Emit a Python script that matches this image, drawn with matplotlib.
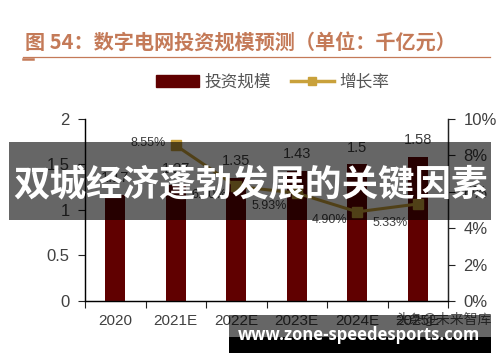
import matplotlib
matplotlib.use('Agg')
import matplotlib.pyplot as plt
from matplotlib.patches import Rectangle
from matplotlib.lines import Line2D

years = ['2020', '2021E', '2022E', '2023E', '2024E', '2025E']
invest = [1.17, 1.27, 1.35, 1.43, 1.5, 1.58]
growth = [None, 8.55, 6.30, 5.93, 4.90, 5.33]
growth_labels = ['', '8.55%', '6.30%', '5.93%', '4.90%', '5.33%']
left_ticks = [0, 0.5, 1, 1.5, 2]
right_ticks = [0, 2, 4, 6, 8, 10]

# label offsets in points (dx, dy) for growth labels
growth_offsets = [(0, 0), (-7, 2), (-7, -6), (-7, -9), (-7, -6), (-7, -14)]

BAR = '#600000'
GOLD = '#C9A13B'
TXT = '#404040'
TITLE = '#C47A58'
num_font = ['Liberation Sans', 'DejaVu Sans']
cjk_font = ['Noto Sans CJK SC', 'DejaVu Sans']

fig = plt.figure(figsize=(5, 3.62), dpi=100)
fig.patch.set_facecolor('white')

ax = fig.add_axes([0.17, 0.1685, 0.726, 0.5028])
x = list(range(len(years)))
ax.bar(x, invest, width=0.33, color=BAR, zorder=2)
for xi, v in zip(x, invest):
    ax.annotate(f'{v:g}', (xi, v), xytext=(0, 7), textcoords='offset points',
                ha='center', va='bottom', fontsize=10.5, color=TXT, family=num_font)
ax.set_ylim(0, 2)
ax.set_xlim(-0.5, len(years) - 0.5)
ax.set_yticks(left_ticks)
ax.set_yticklabels([f'{t:g}' for t in left_ticks], fontsize=12, color=TXT, family=num_font)
ax.set_xticks([i - 0.5 for i in range(len(years) + 1)])
ax.set_xticklabels([])
ax.set_xticks(x, minor=True)
ax.set_xticklabels(years, minor=True, fontsize=11, color=TXT, family=num_font)
ax.tick_params(axis='x', which='minor', length=0, pad=9)
ax.tick_params(axis='x', which='major', length=5, direction='out', color='#222222')
ax.tick_params(axis='y', length=5, direction='out', color='#222222', pad=6)
ax.spines['top'].set_visible(False)
for s in ['left', 'right', 'bottom']:
    ax.spines[s].set_color('#222222')
    ax.spines[s].set_linewidth(1.0)

ax2 = ax.twinx()
gx = [xi for xi, g in zip(x, growth) if g is not None]
gy = [g for g in growth if g is not None]
ax2.plot(gx, gy, color=GOLD, lw=2.2, marker='s', markersize=7, zorder=3)
for xi, g, lab, off in zip(x, growth, growth_labels, growth_offsets):
    if g is None:
        continue
    ax2.annotate(lab, (xi, g), xytext=off, textcoords='offset points',
                 ha='right', va='center', fontsize=9, color=TXT, family=num_font)
ax2.set_ylim(0, 10)
ax2.set_yticks(right_ticks)
ax2.set_yticklabels([f'{t}%' for t in right_ticks], fontsize=12, color=TXT, family=num_font)
ax2.tick_params(axis='y', length=5, direction='out', color='#222222', pad=6)
ax2.spines['top'].set_visible(False)
ax2.spines['right'].set_color('#222222')

# title and underline
fig.text(0.05, 0.88, '图 54：数字电网投资规模预测（单位：千亿元）', fontsize=14.5,
         fontweight='bold', color=TITLE, family=cjk_font, va='center')
fig.add_artist(Line2D([0.046, 0.98], [0.842, 0.842], color=TITLE, lw=0.9))
fig.add_artist(Line2D([0.046, 0.066], [0.838, 0.838], color=TITLE, lw=1.8))

# legend
handles = [Rectangle((0, 0), 1, 1, color=BAR),
           Line2D([], [], color=GOLD, lw=2.5, marker='s', markersize=6)]
fig.legend(handles, ['投资规模', '增长率'], loc='center', bbox_to_anchor=(0.545, 0.773),
           ncol=2, frameon=False, prop={'family': cjk_font, 'size': 12},
           labelcolor='#555555', handlelength=2.6, handleheight=0.7, columnspacing=1.2,
           handletextpad=0.3)

# overlays
fig.add_artist(Rectangle((0.018, 0.392), 0.964, 0.215, transform=fig.transFigure,
                         facecolor='black', alpha=0.6, edgecolor='none', zorder=10))
fig.text(0.5, 0.49, '双城经济蓬勃发展的关键因素', fontsize=26.3, fontweight='bold',
         color='white', family=cjk_font, ha='center', va='center', zorder=11)

fig.text(0.79, 0.118, '头条@未来智库', fontsize=10, color='#555555', family=cjk_font,
         va='center', zorder=9)
fig.add_artist(Rectangle((0.458, 0.069), 0.524, 0.061, transform=fig.transFigure,
                         facecolor='black', alpha=0.6, edgecolor='none', zorder=10))
fig.add_artist(Rectangle((0.458, 0.025), 0.524, 0.044, transform=fig.transFigure,
                         facecolor='black', edgecolor='none', zorder=10))
fig.text(0.718, 0.074, 'www.zone-speedesports.com', fontsize=12, fontweight='bold',
         color='white', family=['Open Sans', 'DejaVu Sans'], ha='center', va='center', zorder=11)

fig.savefig('out.png', dpi=100)
